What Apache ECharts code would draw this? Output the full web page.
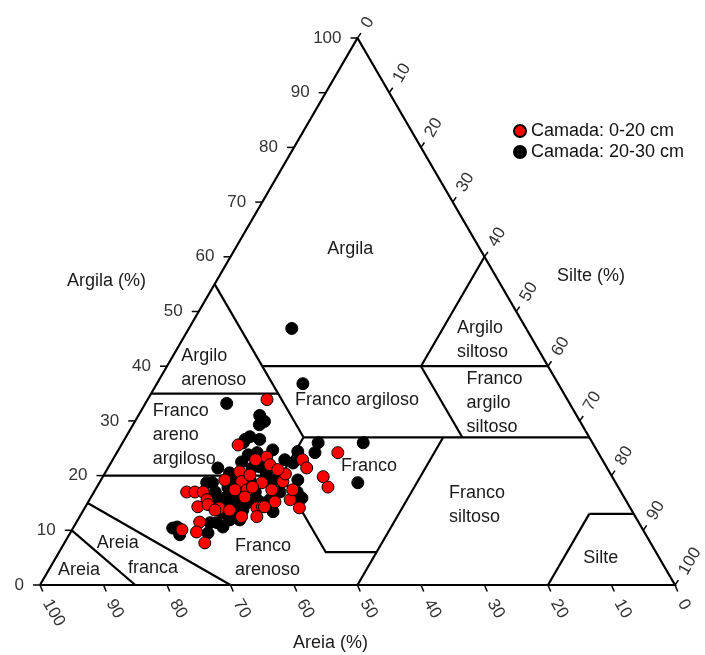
<!DOCTYPE html>
<html>
<head>
<meta charset="utf-8">
<script src="https://cdn.jsdelivr.net/npm/echarts@6/dist/echarts.min.js"></script>
<style>
  html, body { margin: 0; padding: 0; background: #fff; }
  #chart { width: 705px; height: 655px; }
</style>
</head>
<body>
<div id="chart"></div>
<script>
// Soil samples as [areia %, argila %]; silte = 100 - areia - argila
const camada0a20 = [
  [47.3,33.9],[56.0,25.6],[52.6,23.4],[54.6,22.9],[58.2,20.7],[58.8,18.9],[61.3,19.2],[56.9,20.1],[55.7,18.7],
  [68.4,17.0],[67.1,17.0],[65.8,17.0],[65.9,15.6],[68.0,14.3],[66.2,14.7],[64.7,14.1],[63.3,13.7],[58.7,17.4],
  [57.6,17.9],[58.8,14.1],[57.8,14.3],[62.0,12.5],[59.6,12.5],[69.1,11.5],[70.5,9.7],[72.6,10.1],[70.2,7.7],
  [54.8,17.4],[55.4,15.2],[57.5,14.3],[52.3,18.9],[52.8,15.6],[52.1,14.1],[51.5,17.4],[47.2,22.9],[47.3,21.4],
  [45.5,19.8],[45.7,17.9],[41.0,24.2],[51.2,20.3],[52.8,22.0],[52.0,21.1],[59.7,16.1],[60.6,17.4],[65.6,13.7]
];
const camada20a30 = [
  [36.9,46.9],[40.2,36.8],[54.0,33.2],[49.9,31.0],[49.7,29.9],[53.4,27.1],[55.0,26.0],[52.1,26.6],[53.7,24.2],
  [51.0,24.7],[57.0,22.5],[61.3,21.4],[59.9,20.5],[59.2,19.6],[54.6,21.6],[54.1,20.5],[64.4,18.7],[63.5,18.7],
  [63.9,17.0],[64.2,15.6],[62.6,16.1],[61.5,16.1],[59.9,15.0],[58.0,15.6],[64.6,13.2],[64.2,11.9],[62.6,11.9],
  [66.4,11.4],[67.5,11.4],[68.8,9.5],[73.9,10.4],[73.4,9.2],[65.9,10.6],[61.2,13.7],[63.0,13.2],[50.8,29.3],
  [47.2,24.4],[44.6,24.2],[43.2,26.0],[36.1,26.0],[40.6,18.7],[49.0,22.3],[49.8,19.2],[51.0,17.0],[50.8,15.9],
  [53.7,17.0],[56.0,15.6],[57.4,15.0],[56.6,13.4],[60.6,18.3],[60.2,16.5],[57.6,17.0],[55.0,19.2],[53.4,19.2],
  [50.0,22.9],[57.3,19.2],[61.5,17.8],[61.7,14.7],[63.4,14.7],[55.3,23.8],[55.9,21.4],[73.1,10.6],[54.4,26.6]
];
const seriesNames = ['Camada: 0-20 cm', 'Camada: 20-30 cm'];
const tickValues = [0, 10, 20, 30, 40, 50, 60, 70, 80, 90, 100];

// Triangle outline and texture class boundaries, vertices as [areia, argila]
const triangleOutline = [[100, 0], [0, 100], [0, 0], [100, 0]];
const classBoundaries = [
  [[45, 55], [45, 27]],
  [[65, 35], [45, 35]],
  [[45, 40], [20, 40], [0, 60]],
  [[20, 40], [0, 40]],
  [[20, 40], [20, 27]],
  [[45, 27], [0, 27]],
  [[80, 20], [52, 20], [45, 27]],
  [[52, 20], [52, 6], [44, 6]],
  [[23, 27], [50, 0]],
  [[7, 13], [0, 13]],
  [[7, 13], [20, 0]],
  [[85, 15], [70, 0]],
  [[90, 10], [85, 0]]
];

// Texture class names and where each one is written (left edge, [areia, argila])
const classNames = [
  'Argila', 'Argilo\narenoso', 'Franco\nareno\nargiloso', 'Franco argiloso', 'Argilo\nsiltoso',
  'Franco\nargilo\nsiltoso', 'Franco', 'Franco\nsiltoso', 'Silte', 'Franco\narenoso', 'Areia', 'franca', 'Areia'
];
const classAnchors = [
  [24.0, 61.5], [57.9, 39.7], [68.5, 27.5], [42.9, 33.9], [12.0, 44.7],
  [16.2, 33.3], [41.7, 21.8], [28.3, 14.6], [12.0, 4.9], [66.8, 5.0], [87.2, 7.7], [84.6, 3.1], [95.8, 2.7]
];

const FONT = "'Liberation Sans', Arial, sans-serif";

// ternary composition -> plot units (x = silte + argila/2, y = argila)
function toPlot(p) { return [100 - p[0] - p[1] / 2, p[1]]; }

const chart = echarts.init(document.getElementById('chart'), null, { renderer: 'canvas' });

// tick rows: [x, y, value, side]  side 0 = argila (left), 1 = areia (bottom), 2 = silte (right)
const tickRows = [];
tickValues.forEach(v => {
  tickRows.push(toPlot([100 - v, v]).concat([v, 0]));
  tickRows.push(toPlot([v, 0]).concat([v, 1]));
  tickRows.push(toPlot([0, 100 - v]).concat([v, 2]));
});

const deg = Math.PI / 180;
function tickItem(params, api) {
  const p = api.coord([api.value(0), api.value(1)]);
  const v = api.value(2), side = api.value(3);
  const txtStyle = { text: String(v), fill: '#333', font: '17px ' + FONT, verticalAlign: 'middle' };
  let tick, label;
  if (side === 0) {
    tick = { x1: p[0], y1: p[1], x2: p[0] - 7, y2: p[1] };
    label = { type: 'text', x: p[0] - 16, y: p[1], style: Object.assign({ align: 'right' }, txtStyle) };
  } else if (side === 1) {
    const d = [Math.cos(67 * deg), Math.sin(67 * deg)];
    tick = { x1: p[0], y1: p[1], x2: p[0] + 7 * d[0], y2: p[1] + 7 * d[1] };
    label = { type: 'text', x: p[0] + 17 * d[0], y: p[1] + 17 * d[1], rotation: -60 * deg,
      style: Object.assign({ align: 'left' }, txtStyle) };
  } else {
    const d = [Math.cos(55 * deg), -Math.sin(55 * deg)];
    tick = { x1: p[0], y1: p[1], x2: p[0] + 6 * d[0], y2: p[1] + 6 * d[1] };
    label = { type: 'text', x: p[0] + 14 * d[0], y: p[1] + 14 * d[1], rotation: 60 * deg,
      style: Object.assign({ align: 'left' }, txtStyle) };
  }
  return {
    type: 'group',
    children: [
      { type: 'line', shape: tick, style: { stroke: '#000', lineWidth: 1.5 } },
      label
    ]
  };
}

function classLabelItem(params, api) {
  const p = api.coord([api.value(0), api.value(1)]);
  return {
    type: 'text', x: p[0], y: p[1],
    style: {
      text: classNames[params.dataIndex], fill: '#1a1a1a', font: '18px ' + FONT,
      align: 'left', verticalAlign: 'middle', lineHeight: 24
    }
  };
}

const option = {
  animation: false,
  backgroundColor: '#fff',
  grid: { left: 40, right: 30, top: 38, bottom: 70 },
  xAxis: { type: 'value', min: 0, max: 100, show: false },
  yAxis: { type: 'value', min: 0, max: 100, show: false },
  legend: {
    data: seriesNames,
    orient: 'vertical',
    left: 508, top: 117,
    itemWidth: 12, itemHeight: 12, itemGap: 3,
    icon: 'circle',
    selectedMode: false,
    textStyle: { fontSize: 18, fontFamily: FONT, color: '#111' }
  },
  graphic: [
    { type: 'text', left: 67, top: 272, style: { text: 'Argila (%)', font: '18px ' + FONT, fill: '#1a1a1a' } },
    { type: 'text', left: 557, top: 267, style: { text: 'Silte (%)', font: '18px ' + FONT, fill: '#1a1a1a' } },
    { type: 'text', left: 293, top: 634, style: { text: 'Areia (%)', font: '18px ' + FONT, fill: '#1a1a1a' } }
  ],
  series: [
    {
      type: 'lines', coordinateSystem: 'cartesian2d', polyline: true, silent: true,
      lineStyle: { color: '#000', width: 2.2, opacity: 1 },
      data: [triangleOutline].concat(classBoundaries).map(l => ({ coords: l.map(toPlot) }))
    },
    {
      type: 'custom', coordinateSystem: 'cartesian2d', silent: true,
      renderItem: tickItem, data: tickRows
    },
    {
      type: 'custom', coordinateSystem: 'cartesian2d', silent: true,
      renderItem: classLabelItem, data: classAnchors.map(toPlot)
    },
    {
      name: seriesNames[1], type: 'scatter', symbol: 'circle', symbolSize: 12,
      itemStyle: { color: '#000', borderColor: '#000', borderWidth: 1, opacity: 1 },
      data: camada20a30.map(toPlot)
    },
    {
      name: seriesNames[0], type: 'scatter', symbol: 'circle', symbolSize: 12,
      itemStyle: { color: '#ff0000', borderColor: '#000', borderWidth: 1, opacity: 1 },
      data: camada0a20.map(toPlot)
    }
  ]
};
chart.setOption(option);
</script>
</body>
</html>
